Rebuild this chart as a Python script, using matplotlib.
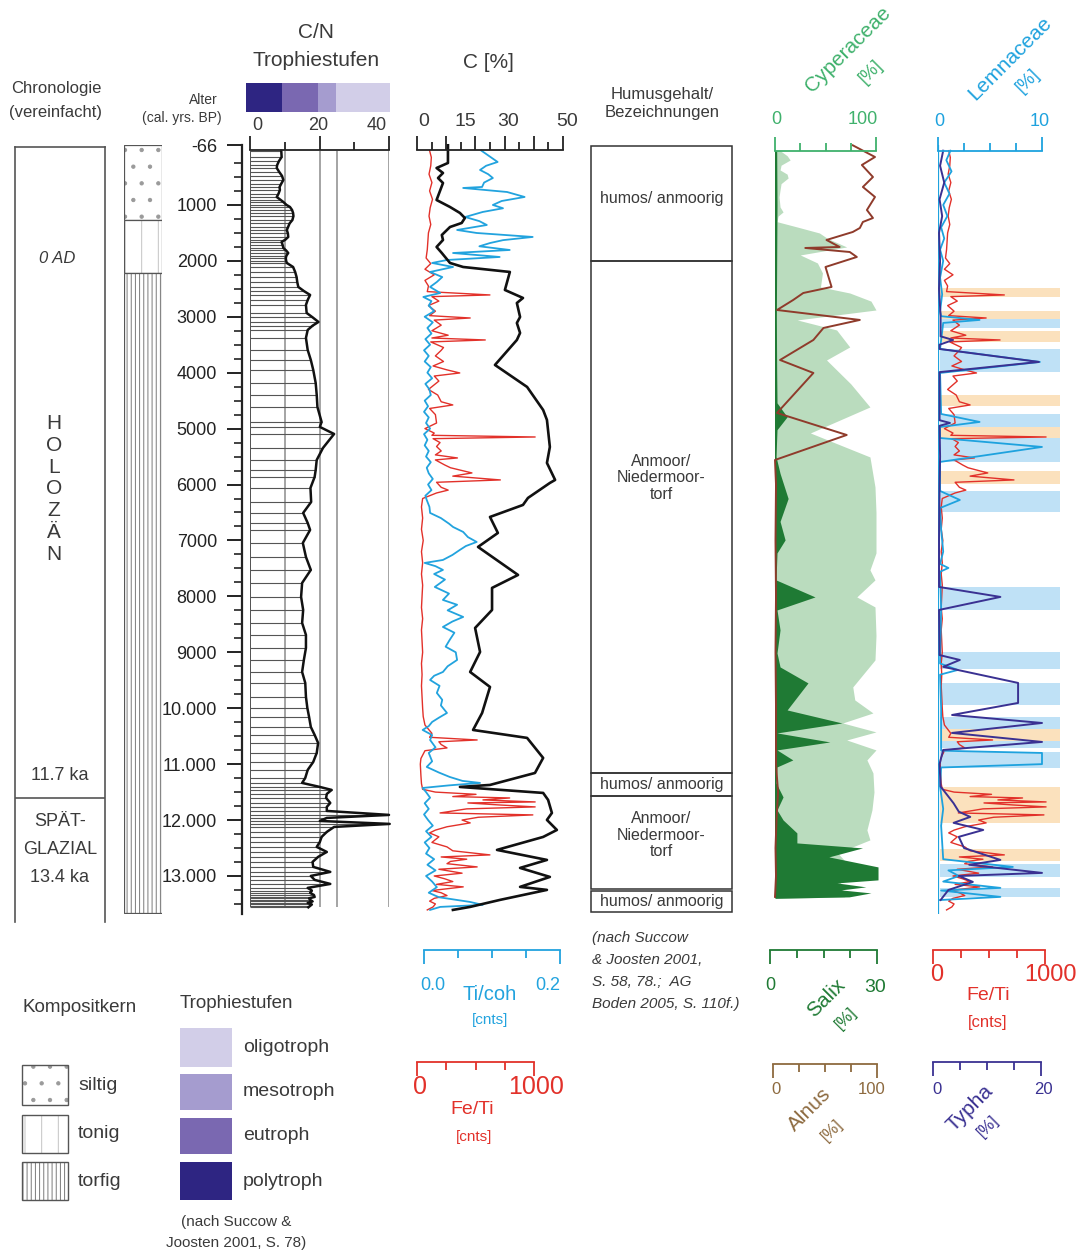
import numpy as np
import matplotlib.pyplot as plt
from matplotlib.patches import Rectangle

plt.rcParams['font.family'] = ['Liberation Sans', 'DejaVu Sans']
plt.rcParams['hatch.linewidth'] = 0.7

W, H = 1084, 1255
AGE_TOP, AGE_BOT = -66, 13680
PX_TOP, PX_BOT = 145.3, 914.0

# ---------------- data (ages in cal. yrs BP) ----------------
age_ticks = [-66, 1000, 2000, 3000, 4000, 5000, 6000, 7000, 8000, 9000,
             10000, 11000, 12000, 13000]
age_labels = ['-66', '1000', '2000', '3000', '4000', '5000', '6000', '7000',
              '8000', '9000', '10.000', '11.000', '12.000', '13.000']

# C/N ratio
cn_age = [30, 143, 220, 290, 340, 410, 480, 554, 620, 680, 733, 800, 858, 910,
          948, 1000, 1037, 1090, 1144, 1200, 1270, 1330, 1390, 1448, 1510, 1573,
          1620, 1663, 1720, 1770, 1815, 1860, 1905, 1949, 2000, 2038, 2110, 2200,
          2289, 2380, 2467, 2540, 2610, 2700, 2789, 2932, 3010, 3093, 3160, 3236,
          3379, 3594, 3773, 3951, 4184, 4398, 4613, 4881, 4970, 5096, 5346, 5561,
          5740, 5865, 6061, 6312, 6508, 6687, 6812, 7045, 7296, 7527, 7760, 8010,
          8243, 8475, 8690, 8922, 9137, 9352, 9548, 9798, 9995, 10156, 10335,
          10478, 10621, 10800, 10961, 11104, 11247, 11336, 11408, 11461, 11533,
          11605, 11694, 11765, 11837, 11908, 11962, 12016, 12069, 12123, 12212,
          12302, 12391, 12480, 12570, 12659, 12749, 12838, 12927, 12999, 13070,
          13142, 13213, 13260, 13303, 13340, 13374, 13400, 13428, 13455, 13482,
          13510, 13535, 13560]
cn_val = [9.0, 9.1, 8.3, 7.8, 7.7, 8.4, 9.2, 9.6, 9.0, 8.5, 8.6, 8.2, 7.7, 8.8,
          9.6, 10.5, 11.5, 12.1, 12.4, 12.5, 12.2, 11.4, 11.0, 10.6, 10.9, 11.0,
          10.2, 9.1, 9.4, 9.6, 10.4, 11.0, 10.5, 10.3, 10.4, 10.6, 12.4, 13.0,
          13.4, 13.6, 13.9, 15.5, 17.3, 16.6, 16.1, 16.3, 18.0, 19.7, 18.0, 16.6,
          16.1, 16.6, 17.5, 18.2, 18.9, 19.2, 19.4, 20.6, 20.1, 24.2, 21.0, 19.2,
          18.9, 18.6, 17.4, 17.6, 15.3, 16.6, 17.3, 15.2, 16.1, 17.5, 15.0, 14.7,
          15.3, 15.0, 16.1, 16.1, 15.5, 15.0, 15.9, 16.1, 16.5, 17.0, 17.5,
          18.6, 19.6, 19.2, 18.2, 16.6, 15.9, 15.0, 20.1, 23.5, 22.1,
          21.9, 23.1, 22.1, 22.1, 40.0, 22.1, 20.1, 40.2, 24.2, 22.1,
          20.6, 20.1, 19.2, 22.1, 19.6, 18.0, 18.2, 23.1, 17.5, 18.6,
          23.1, 16.6, 17.8, 17.3, 18.4, 18.6, 17.0, 17.3, 18.0, 16.6,
          17.8, 17.3, 16.8]

# trophic levels (C/N boundaries)
troph_names = ['polytroph', 'eutroph', 'mesotroph', 'oligotroph']
troph_lo = [0, 10, 20, 25]
troph_hi = [10, 20, 25, 40]
troph_colors = ['#2e2582', '#7a68b1', '#a59ccf', '#d2cee8']

# organic carbon C [%]
c_age = [-66, 250, 340, 429, 519, 608, 912, 1037, 1144, 1234, 1323, 1395, 1538,
         1627, 1752, 1860, 2038, 2110, 2199, 2521, 2664, 2754, 3004, 3111, 3290,
         3415, 3862, 4255, 4667, 4845, 5328, 5614, 5918, 5972, 6240, 6365, 6580,
         6866, 7116, 7617, 7849, 8243, 8565, 8994, 9352, 9620, 10085, 10389,
         10531, 10889, 11158, 11372, 11408, 11515, 11640, 11873, 11998, 12177,
         12302, 12534, 12713, 12856, 13017, 13195, 13249, 13428, 13553, 13607]
c_val = [10.6, 10.6, 6.7, 8.9, 7.2, 8.9, 6.7, 11.3, 14.7, 16.4, 15.3, 11.3, 8.5,
         8.9, 6.7, 8.5, 11.3, 15.8, 31.8, 30.1, 36.3, 34.2, 35.3, 34.2, 35.3,
         34.2, 26.7, 37.7, 43.2, 44.5, 45.5, 44.5, 47.3, 45.5, 38.0, 36.3, 25.0,
         27.7, 20.9, 34.6, 25.7, 25.7, 19.9, 21.6, 18.2, 25.0, 22.3, 19.2,
         37.7, 43.2, 40.4, 25.0, 14.7, 43.2, 44.9, 46.2, 44.5, 47.9,
         43.2, 27.4, 44.5, 35.3, 45.5, 35.3, 44.5, 28.4, 18.2, 12.3]

# Ti/coh [cnts]
ti_age = [30, 130, 232, 300, 375, 450, 519, 600, 679, 697, 769, 858, 930, 1001,
          1060, 1126, 1216, 1290, 1359, 1448, 1502, 1573, 1630, 1681, 1740, 1806,
          1860, 1931, 1985, 2038, 2110, 2199, 2290, 2378, 2467, 2575, 2646, 2720,
          2800, 2900, 3000, 3100, 3200, 3300, 3400, 3500, 3600, 3700, 3800, 3900,
          4000, 4100, 4200, 4300, 4400, 4500, 4600, 4700, 4800, 4900, 5000, 5100,
          5200, 5300, 5400, 5500, 5600, 5700, 5800, 5900, 6000, 6100, 6200, 6276,
          6400, 6508, 6600, 6700, 6759, 6848, 6940, 7027, 7100, 7170, 7260, 7349,
          7402, 7460, 7527, 7600, 7700, 7832, 7950, 8064, 8150, 8250, 8368, 8450,
          8547, 8650, 8779, 8900, 9000, 9137, 9250, 9352, 9420, 9495, 9600, 9727,
          9850, 9950, 10085, 10170, 10246, 10320, 10389, 10480, 10568, 10700,
          10800, 10950, 11050, 11150, 11229, 11300, 11336, 11380, 11426, 11500,
          11600, 11700, 11800, 11900, 12000, 12100, 12200, 12300, 12400, 12500,
          12600, 12700, 12800, 12900, 13000, 13100, 13200, 13300, 13380, 13464,
          13517, 13553, 13607]
ti_val = [0.088, 0.100, 0.112, 0.095, 0.086, 0.098, 0.105, 0.092, 0.089, 0.061,
          0.126, 0.152, 0.118, 0.105, 0.120, 0.090, 0.064, 0.085, 0.096, 0.052,
          0.081, 0.164, 0.120, 0.101, 0.085, 0.130, 0.046, 0.115, 0.037, 0.015,
          0.046, 0.012, 0.030, 0.022, 0.012, 0.027, 0.002, 0.014, 0.010, 0.018,
          0.004, 0.016, 0.008, 0.014, 0.005, 0.012, 0.003, 0.010, 0.004, 0.013,
          0.008, 0.015, 0.005, 0.011, 0.013, 0.004, 0.009, 0.003, 0.010, 0.006,
          0.012, 0.003, 0.008, 0.004, 0.010, 0.006, 0.013, 0.007, 0.010, 0.016,
          0.009, 0.014, 0.005, 0.007, 0.011, 0.012, 0.028, 0.040, 0.046, 0.061,
          0.068, 0.081, 0.065, 0.056, 0.045, 0.031, 0.004, 0.020, 0.031, 0.018,
          0.034, 0.019, 0.040, 0.031, 0.052, 0.038, 0.061, 0.045, 0.031, 0.048,
          0.041, 0.035, 0.050, 0.052, 0.038, 0.031, 0.018, 0.012, 0.026, 0.022,
          0.030, 0.028, 0.037, 0.025, 0.015, 0.010, 0.001, 0.015, 0.012, 0.020,
          0.010, 0.015, 0.007, 0.025, 0.041, 0.060, 0.086, 0.040, 0.001, 0.006,
          0.012, 0.004, 0.010, 0.003, 0.009, 0.016, 0.006, 0.014, 0.004, 0.011,
          0.006, 0.018, 0.008, 0.020, 0.006, 0.015, 0.022, 0.010, 0.025, 0.071,
          0.090, 0.027, 0.012]

# Fe/Ti [cnts]
fe_age = [30, 150, 300, 450, 600, 750, 900, 1050, 1200, 1350, 1500, 1650, 1800,
          1950, 2050, 2150, 2250, 2350, 2450, 2550, 2610, 2640, 2720, 2800, 2900,
          2980, 3022, 3060, 3150, 3250, 3330, 3380, 3415, 3450, 3550, 3600, 3700,
          3800, 3880, 3950, 4005, 4060, 4150, 4300, 4400, 4520, 4577, 4640, 4750,
          4900, 5000, 5080, 5120, 5150, 5180, 5250, 5320, 5400, 5470, 5525, 5560,
          5650, 5700, 5793, 5850, 5918, 5960, 6050, 6100, 6151, 6250, 6400, 6600,
          6800, 7000, 7200, 7400, 7600, 7800, 8000, 8200, 8400, 8600, 8800, 9000,
          9200, 9400, 9600, 9800, 10000, 10150, 10300, 10450, 10520, 10568, 10600,
          10650, 10710, 10760, 10900, 11000, 11200, 11350, 11450, 11500, 11540,
          11580, 11605, 11640, 11676, 11694, 11730, 11765, 11800, 11873, 11908,
          11950, 12000, 12051, 12120, 12180, 12230, 12300, 12400, 12480, 12550,
          12623, 12660, 12700, 12740, 12780, 12838, 12880, 12950, 13000, 13050,
          13100, 13150, 13195, 13260, 13300, 13350, 13400, 13450, 13500, 13553,
          13607]
fe_val = [100, 115, 110, 95, 120, 100, 125, 105, 95, 110, 90, 85, 80,
          70, 110, 60, 140, 60, 90, 80, 620, 120, 180, 90, 150,
          100, 450, 140, 200, 120, 260, 120, 580, 110, 220, 200, 150,
          220, 130, 250, 360, 140, 180, 90, 170, 200, 300, 100, 150,
          160, 60, 140, 120, 1010, 130, 190, 160, 200, 150, 340, 150,
          230, 280, 465, 300, 710, 160, 200, 260, 160, 40, 30, 40,
          30, 45, 30, 40, 30, 40, 35, 30, 40, 30, 35, 40,
          30, 35, 30, 35, 40, 45, 60, 120, 100, 510, 180,
          200, 250, 60, 25, 20, 25, 30, 40, 150, 500,
          300, 790, 560, 1010, 430, 700, 1010, 420, 190, 990,
          520, 380, 450, 250, 150, 100, 180, 120, 250, 300,
          620, 200, 420, 280, 250, 510, 180, 380, 140, 230,
          300, 160, 390, 120, 200, 250, 140, 100, 150, 130,
          80]

# humus content / designation
humus_top = [-60, 2000, 11160, 11570, 13265]
humus_bot = [2000, 11160, 11570, 13230, 13640]
humus_lab_age = [880, 5880, 11360, 12270, 13450]
humus_labels = ['humos/ anmoorig', 'Anmoor/\nNiedermoor-\ntorf', 'humos/ anmoorig',
                'Anmoor/\nNiedermoor-\ntorf', 'humos/ anmoorig']

# pollen: Cyperaceae, Salix, Alnus [%]
cyp_age = [30, 120, 197, 290, 375, 450, 519, 620, 733, 858, 1037, 1126, 1200,
           1300, 1395, 1502, 1600, 1752, 1895, 2038, 2217, 2467, 2575, 2720, 2879,
           3057, 3236, 3540, 3773, 4200, 4613, 5078, 5507, 6043, 6500, 6991, 7224,
           7527, 7706, 8010, 8189, 8700, 9137, 9620, 9852, 10085, 10264, 10424,
           10568, 10746, 10925, 11158, 11500, 11819, 12177, 12355, 12588, 12767,
           13070, 13374, 13400]
cyp_val = [5, 12, 15, 6, 5, 12, 13, 6, 5, 4, 5, 8, 3,
           2, 22, 44, 52, 71, 25, 42, 47, 45, 74, 95, 100,
           22, 61, 74, 51, 75, 94, 35, 94, 99, 100, 100, 100,
           94, 99, 81, 99, 100, 99, 77, 79, 97, 67, 100,
           71, 100, 91, 97, 98, 96, 91, 94, 62, 71,
           64, 69, 0]

salix_age = [30, 1000, 2000, 3000, 4000, 4540, 4790, 5020, 5500, 5800, 6250, 6660,
             6991, 7224, 7706, 8010, 8243, 8600, 9012, 9262, 9548, 10031, 10264,
             10442, 10603, 10746, 10925, 11050, 11336, 11587, 11819, 11998, 12230,
             12409, 12498, 12659, 12838, 13070, 13124, 13195, 13249, 13303, 13374,
             13400]
salix_val = [0.5, 0.6, 0.5, 0.4, 0.5, 0.6, 3.6, 0.6, 0.3, 1.5, 3.9, 1.5,
             3.0, 0.6, 0.3, 11.9, 0.6, 1.5, 0.6, 1.5, 9.8, 3.6, 19.9,
             0.6, 16.3, 0.6, 5.3, 0.6, 0.3, 2.4, 0.6, 2.4, 6.5,
             6.5, 26.0, 16.0, 30.6, 30.6, 18.4, 27.0, 19.6, 28.5, 22.0,
             0]

alnus_age = [-66, 143, 286, 501, 679, 858, 1091, 1234, 1305, 1413, 1484, 1627,
             1752, 1770, 1842, 1931, 2110, 2467, 2575, 2700, 2879, 3057, 3200,
             3415, 3773, 4005, 4720, 5114, 5561, 6000, 7000, 8000, 9000, 10000,
             11000, 11500, 12000, 12500, 13000, 13374]
alnus_val = [77, 99, 86, 97, 87, 99, 91, 97, 87, 84, 77, 51,
             64, 30, 74, 81, 50, 56, 28, 18, 2, 84, 48,
             38, 5, 38, 2, 71, 0, 1, 0.5, 1, 0.5, 1,
             1, 3, 1.5, 0.5, 1, 0]

# Lemnaceae [%], Typha [%]
lem_age = [30, 200, 400, 600, 800, 1000, 1200, 1400, 1600, 1800, 2000, 2300,
           2600, 2900, 2990, 3057, 3110, 3576, 3808, 4005, 4738, 4881, 4971, 5168,
           5328, 5596, 6115, 6276, 6420, 6800, 7200, 7420, 7492, 7560, 8200, 9200,
           9316, 9400, 10000, 10760, 10800, 11000, 11060, 11400, 11800, 12100,
           12700, 12838, 12900, 13000, 13100, 13213, 13260, 13374, 13430]
lem_val = [1.2, 0.8, 1.3, 0.6, 1.1, 0.5, 0.9, 0.3, 0.6, 0.2, 0.5, 0.2,
           0.4, 0.2, 0.3, 4.0, 0.5, 0.2, 9.8, 0.2, 0.3, 4.0, 0.2, 0.2,
           10.0, 0.2, 0.2, 2.1, 0.2, 0.3, 0.5, 0.2, 1.0, 0.2, 0.3, 0.2,
           1.9, 0.2, 0.3, 0.3, 10.0, 10.0, 0.3, 0.2, 0.5, 0.3,
           0.5, 7.2, 1.0, 2.0, 0.5, 6.0, 0.3, 6.0, 0.2]

typha_age = [30, 300, 600, 900, 1200, 1500, 2000, 2500, 3000, 3350, 3415, 3500,
             3576, 3808, 3990, 4850, 4899, 4950, 5500, 6000, 7000, 7832, 8010,
             8243, 9050, 9137, 9260, 9548, 9906, 10121, 10264, 10442, 10603,
             10746, 11000, 11400, 11700, 11850, 11944, 12050, 12177, 12300, 12500,
             12713, 12800, 12945, 13000, 13106, 13250, 13430]
typha_val = [1.0, 0.4, 1.2, 0.3, 0.8, 0.2, 0.4, 0.2, 0.5, 0.5, 2.9, 0.3,
             0.3, 19.4, 0.3, 0.3, 2.3, 0.3, 0.4, 0.3, 0.2, 0.2, 12.0,
             0.2, 0.3, 4.2, 1.0, 15.4, 15.4, 2.7, 20.0, 2.7, 20.0,
             1.0, 0.3, 0.5, 3.0, 4.0, 6.2, 3.0, 8.7, 4.0, 5.0,
             12.0, 6.0, 20.0, 4.0, 6.7, 2.0, 0.5]

# highlighted intervals in the Lemnaceae panel
orange_bands = [(2485, 2646), (2897, 3040), (3254, 3451), (4398, 4595),
                (4971, 5168), (5757, 5990), (10371, 10585), (11408, 12051),
                (12516, 12731)]
blue_bands = [(3040, 3200), (3576, 3987), (4738, 4971), (5168, 5596),
              (6115, 6490), (7832, 8243), (8994, 9298), (9548, 9942),
              (10156, 10371), (10585, 10710), (10782, 11068), (12784, 13017),
              (13213, 13374)]

# lithology of the composite core
litho_top = [-66, 1270, 2217]
litho_bot = [1270, 2217, 13660]
litho_hatch = ['.', '|', '||||']
litho_color = ['#9a9a9a', '#c4c4c4', '#7a7a7a']
litho_names = ['siltig', 'tonig', 'torfig']

chrono_boundary = 11600
zero_ad = 1950

# colours
TXT = '#3a3a3a'
C_RED = '#e2312a'
C_TI = '#22a3de'
C_CYP = '#3fb16c'
C_CYPFILL = '#badcbe'
C_SALIX = '#1f7a34'
C_ALNUS = '#8f3b2b'
C_ALNUS_T = '#8d6a3f'
C_LEM = '#1ea2de'
C_TYPHA = '#3a3192'

fig = plt.figure(figsize=(W / 100, H / 100), dpi=100)
fig.patch.set_facecolor('white')


def panel(x0, x1, xlim):
    ax = fig.add_axes([x0 / W, 1 - PX_BOT / H, (x1 - x0) / W, (PX_BOT - PX_TOP) / H])
    ax.set_xlim(*xlim)
    ax.set_ylim(AGE_BOT, AGE_TOP)
    ax.axis('off')
    return ax


def scale_bar(x0, x1, y, lim, long_t, short_t, color, up=True, lw=1.3):
    ax = fig.add_axes([x0 / W, 1 - y / H, (x1 - x0) / W, 1 / H])
    ax.set_xlim(*lim)
    ax.patch.set_visible(False)
    for s in ['left', 'right', 'bottom']:
        ax.spines[s].set_visible(False)
    ax.spines['top'].set_color(color)
    ax.spines['top'].set_linewidth(lw)
    ax.xaxis.set_ticks_position('top')
    ax.set_yticks([])
    ax.set_xticks(long_t)
    ax.set_xticks(short_t, minor=True)
    ax.set_xticklabels([])
    d = 'out' if up else 'in'
    ax.tick_params(axis='x', which='major', direction=d, length=10, width=lw, color=color)
    ax.tick_params(axis='x', which='minor', direction=d, length=6, width=lw, color=color)
    return ax


# ---------------- chronology column ----------------
ax_ch = panel(15, 105, (0, 1))
ax_ch.axhline(chrono_boundary, color='#555', lw=1.2)
ax_ch.text(0.47, zero_ad, '0 AD', ha='center', va='center', fontsize=12,
           style='italic', color=TXT)

# ---------------- lithology column ----------------
ax_l = panel(124, 162, (0, 1))
for top, bot, hatch, col in zip(litho_top, litho_bot, litho_hatch, litho_color):
    ax_l.add_patch(Rectangle((0, top), 1, bot - top, facecolor='white',
                             edgecolor=col, hatch=hatch, lw=0))
    ax_l.add_patch(Rectangle((0.01, top), 0.98, bot - top, fill=False,
                             edgecolor='#555', lw=0.9))

# ---------------- age axis ----------------
ax_age = fig.add_axes([242 / W, 1 - PX_BOT / H, 1 / W, (PX_BOT - PX_TOP) / H])
ax_age.set_ylim(AGE_BOT, AGE_TOP)
ax_age.patch.set_visible(False)
for s in ['right', 'top', 'bottom']:
    ax_age.spines[s].set_visible(False)
ax_age.spines['left'].set_linewidth(1.6)
ax_age.spines['left'].set_color('#222')
ax_age.set_xticks([])
ax_age.set_yticks(age_ticks)
ax_age.set_yticklabels(age_labels)
ax_age.set_yticks(np.arange(250, 13600, 250), minor=True)
ax_age.tick_params(axis='y', which='major', length=11, width=1.4, labelsize=13,
                   pad=7, colors='#222')
ax_age.tick_params(axis='y', which='minor', length=6, width=1.2, color='#222')

# ---------------- C/N panel ----------------
ax_cn = panel(250, 389, (0, 40))
ax_cn.vlines(troph_hi, cn_age[0], cn_age[-1], colors='#8c8c8c', lw=1.1)
ax_cn.vlines(0, cn_age[0], cn_age[-1], colors='#333', lw=1.2)
ax_cn.hlines(cn_age, 0, cn_val, colors='#555', lw=0.8)
ax_cn.plot(cn_val, cn_age, color='#111', lw=1.8, clip_on=False)
scale_bar(250, 389, 151, (0, 40), [0, 20, 40], [10, 30], '#222')

ax_cb = fig.add_axes([246 / W, 1 - 112 / H, 144 / W, 29 / H])
ax_cb.set_xlim(0, 40)
ax_cb.set_ylim(0, 1)
ax_cb.axis('off')
for lo, hi, col in zip(troph_lo, troph_hi, troph_colors):
    ax_cb.add_patch(Rectangle((lo, 0), hi - lo, 1, color=col, lw=0))

# ---------------- C / Ti / Fe panel ----------------
ax_fe = panel(418, 534, (0, 1000))
ax_fe.plot(fe_val, fe_age, color=C_RED, lw=1.0, clip_on=False)
ax_ti = panel(422, 557, (0, 0.2))
ax_ti.plot(ti_val, ti_age, color=C_TI, lw=1.3, clip_on=False)
ax_c = panel(417, 563, (0, 50))
ax_c.plot(c_val, c_age, color='#111', lw=1.9, clip_on=False)
scale_bar(417, 563, 151, (0, 50), [0, 10, 20, 30, 40, 50], [5, 15, 25, 35, 45], '#222')
scale_bar(424, 560, 951, (0, 0.2), [0, 0.2], [0.05, 0.1, 0.15], C_TI, up=False)
scale_bar(417, 534, 1063, (0, 1000), [0, 1000], [250, 500, 750], C_RED, up=False)

# ---------------- humus column ----------------
ax_h = panel(590, 733, (0, 1))
for top, bot, lab, la in zip(humus_top, humus_bot, humus_labels, humus_lab_age):
    ax_h.add_patch(Rectangle((0.005, top), 0.99, bot - top, fill=False,
                             edgecolor='#333', lw=1.1))
    ax_h.text(0.5, la, lab, ha='center', va='center', fontsize=11.5,
              color=TXT, linespacing=1.15)

# ---------------- Cyperaceae / Salix / Alnus ----------------
ax_cy = panel(775, 876, (0, 100))
ax_cy.fill_betweenx(cyp_age, 0, cyp_val, color=C_CYPFILL, lw=0)
ax_sx = panel(775, 876, (0, 30))
ax_sx.fill_betweenx(salix_age, 0, salix_val, color=C_SALIX, lw=0, clip_on=False)
ax_sx.vlines(0, salix_age[0], salix_age[-1], colors=C_SALIX, lw=1.6)
ax_al = panel(775, 876, (0, 100))
ax_al.plot(alnus_val, alnus_age, color=C_ALNUS, lw=1.4, clip_on=False)
scale_bar(775, 876, 152, (0, 100), [0, 100], [25, 50, 75], C_CYP)
scale_bar(770, 877, 951, (0, 30), [0, 30], [7.5, 15, 22.5], C_SALIX, up=False)
scale_bar(773, 877, 1065, (0, 100), [0, 100], [25, 50, 75], C_ALNUS_T, up=False)

# ---------------- Lemnaceae / Fe/Ti / Typha ----------------
ax_band = panel(940, 1060, (0, 1))
for a, b in orange_bands:
    ax_band.axhspan(a, b, color='#fbe1bd', lw=0)
for a, b in blue_bands:
    ax_band.axhspan(a, b, color='#bfe1f6', lw=0)
ax_fe2 = panel(938, 1045, (0, 1000))
ax_fe2.plot(fe_val, fe_age, color=C_RED, lw=1.0, clip_on=False)
ax_lem = panel(938, 1042, (0, 10))
ax_lem.plot(lem_val, lem_age, color=C_LEM, lw=1.3, clip_on=False)
ax_lem.vlines(0, AGE_TOP, AGE_BOT, colors=C_LEM, lw=1.6)
ax_ty = panel(938, 1042, (0, 20))
ax_ty.plot(typha_val, typha_age, color=C_TYPHA, lw=1.4, clip_on=False)
scale_bar(938, 1042, 152, (0, 10), [0, 10], [2.5, 5, 7.5], C_LEM)
scale_bar(933, 1045, 951, (0, 1000), [0, 1000], [250, 500, 750], C_RED, up=False)
scale_bar(933, 1041, 1063, (0, 20), [0, 20], [5, 10, 15], C_TYPHA, up=False)

# ---------------- overlay for titles, labels and legend ----------------
ov = fig.add_axes([0, 0, 1, 1], zorder=20)
ov.set_xlim(0, W)
ov.set_ylim(H, 0)
ov.axis('off')


def t(x, y, s, size=12, color=TXT, **kw):
    kw.setdefault('ha', 'center')
    kw.setdefault('va', 'center')
    ov.text(x, y, s, fontsize=size, color=color, **kw)


# chronology frame
ov.plot([15, 15], [147, 922], color='#555', lw=1.2)
ov.plot([105, 105], [147, 922], color='#555', lw=1.2)
ov.plot([15, 105], [147, 147], color='#555', lw=1.2)
t(56, 88, 'Chronologie', 12)
t(56, 113, '(vereinfacht)', 12)
t(54, 489, 'H\nO\nL\nO\nZ\nÄ\nN', 15, linespacing=1.18)
t(60, 775, '11.7 ka', 13)
t(60, 822, 'SPÄT-', 13)
t(60, 850, 'GLAZIAL', 13)
t(60, 878, '13.4 ka', 13)

# C/N header
t(218, 100, 'Alter', 10, ha='right')
t(222, 118, '(cal. yrs. BP)', 10, ha='right')
t(316, 33, 'C/N', 15)
t(316, 60, 'Trophiestufen', 15)
t(257, 126, '0', 13)
t(318, 126, '20', 13)
t(377, 126, '40', 13)

# C header
t(488, 62, 'C [%]', 15)
for x, s in zip([424, 465, 508, 567], ['0', '15', '30', '50']):
    t(x, 122, s, 14)

# humus header
t(662, 94, 'Humusgehalt/', 12)
t(662, 113, 'Bezeichnungen', 12)

# pollen headers
t(848, 50, 'Cyperaceae', 15, C_CYP, rotation=45)
t(871, 72, '[%]', 13, C_CYP, rotation=45)
t(776, 119, '0', 13, C_CYP)
t(863, 119, '100', 13, C_CYP)
t(1010, 58, 'Lemnaceae', 15, C_LEM, rotation=45)
t(1028, 81, '[%]', 13, C_LEM, rotation=45)
t(939, 121, '0', 13, C_LEM)
t(1040, 121, '10', 13, C_LEM)

# bottom scale labels
t(433, 985, '0.0', 13, C_TI)
t(548, 985, '0.2', 13, C_TI)
t(490, 995, 'Ti/coh', 14.5, C_TI)
t(490, 1020, '[cnts]', 11, C_TI)
t(420, 1087, '0', 18, C_RED)
t(536, 1087, '1000', 18, C_RED)
t(472, 1110, 'Fe/Ti', 14, C_RED)
t(474, 1137, '[cnts]', 11, C_RED)

t(770, 985, '0', 13, C_SALIX)
t(875, 988, '30', 14, C_SALIX)
t(826, 998, 'Salix', 15, C_SALIX, rotation=45)
t(846, 1018, '[%]', 12, C_SALIX, rotation=45)
t(776, 1090, '0', 12, C_ALNUS_T)
t(872, 1090, '100', 12, C_ALNUS_T)
t(810, 1110, 'Alnus', 15, C_ALNUS_T, rotation=45)
t(832, 1130, '[%]', 12, C_ALNUS_T, rotation=45)

t(937, 975, '0', 17, C_RED)
t(1050, 975, '1000', 17, C_RED)
t(988, 995, 'Fe/Ti', 14, C_RED)
t(988, 1022, '[cnts]', 12, C_RED)
t(937, 1090, '0', 12, C_TYPHA)
t(1043, 1090, '20', 12, C_TYPHA)
t(970, 1108, 'Typha', 15, C_TYPHA, rotation=45)
t(988, 1126, '[%]', 12, C_TYPHA, rotation=45)

# reference note
for y, s in zip([938, 960, 982, 1004],
                ['(nach Succow', '& Joosten 2001,', 'S. 58, 78.;  AG',
                 'Boden 2005, S. 110f.)']):
    t(592, y, s, 11, ha='left', style='italic')

# lithology legend
t(22, 1008, 'Kompositkern', 13.5, ha='left')
for (y0, y1), hatch, col, name in zip([(1065, 1105), (1115, 1153), (1162, 1200)],
                                      litho_hatch, litho_color, litho_names):
    ov.add_patch(Rectangle((22, y0), 46, y1 - y0, facecolor='white',
                           edgecolor=col, hatch=hatch, lw=0))
    ov.add_patch(Rectangle((22, y0), 46, y1 - y0, fill=False, edgecolor='#555', lw=1))
    t(78, (y0 + y1) / 2, name, 14, ha='left')

# trophic legend
t(180, 1003, 'Trophiestufen', 13.5, ha='left')
for (y0, y1), col, name in zip([(1162, 1200), (1118, 1154), (1074, 1110), (1028, 1067)],
                               troph_colors, troph_names):
    ov.add_patch(Rectangle((180, y0), 52, y1 - y0, color=col, lw=0))
    t(243, (y0 + y1) / 2, name, 14, ha='left')
t(236, 1222, '(nach Succow &', 11)
t(236, 1243, 'Joosten 2001, S. 78)', 11)

fig.savefig('out.png', dpi=100, facecolor='white')
